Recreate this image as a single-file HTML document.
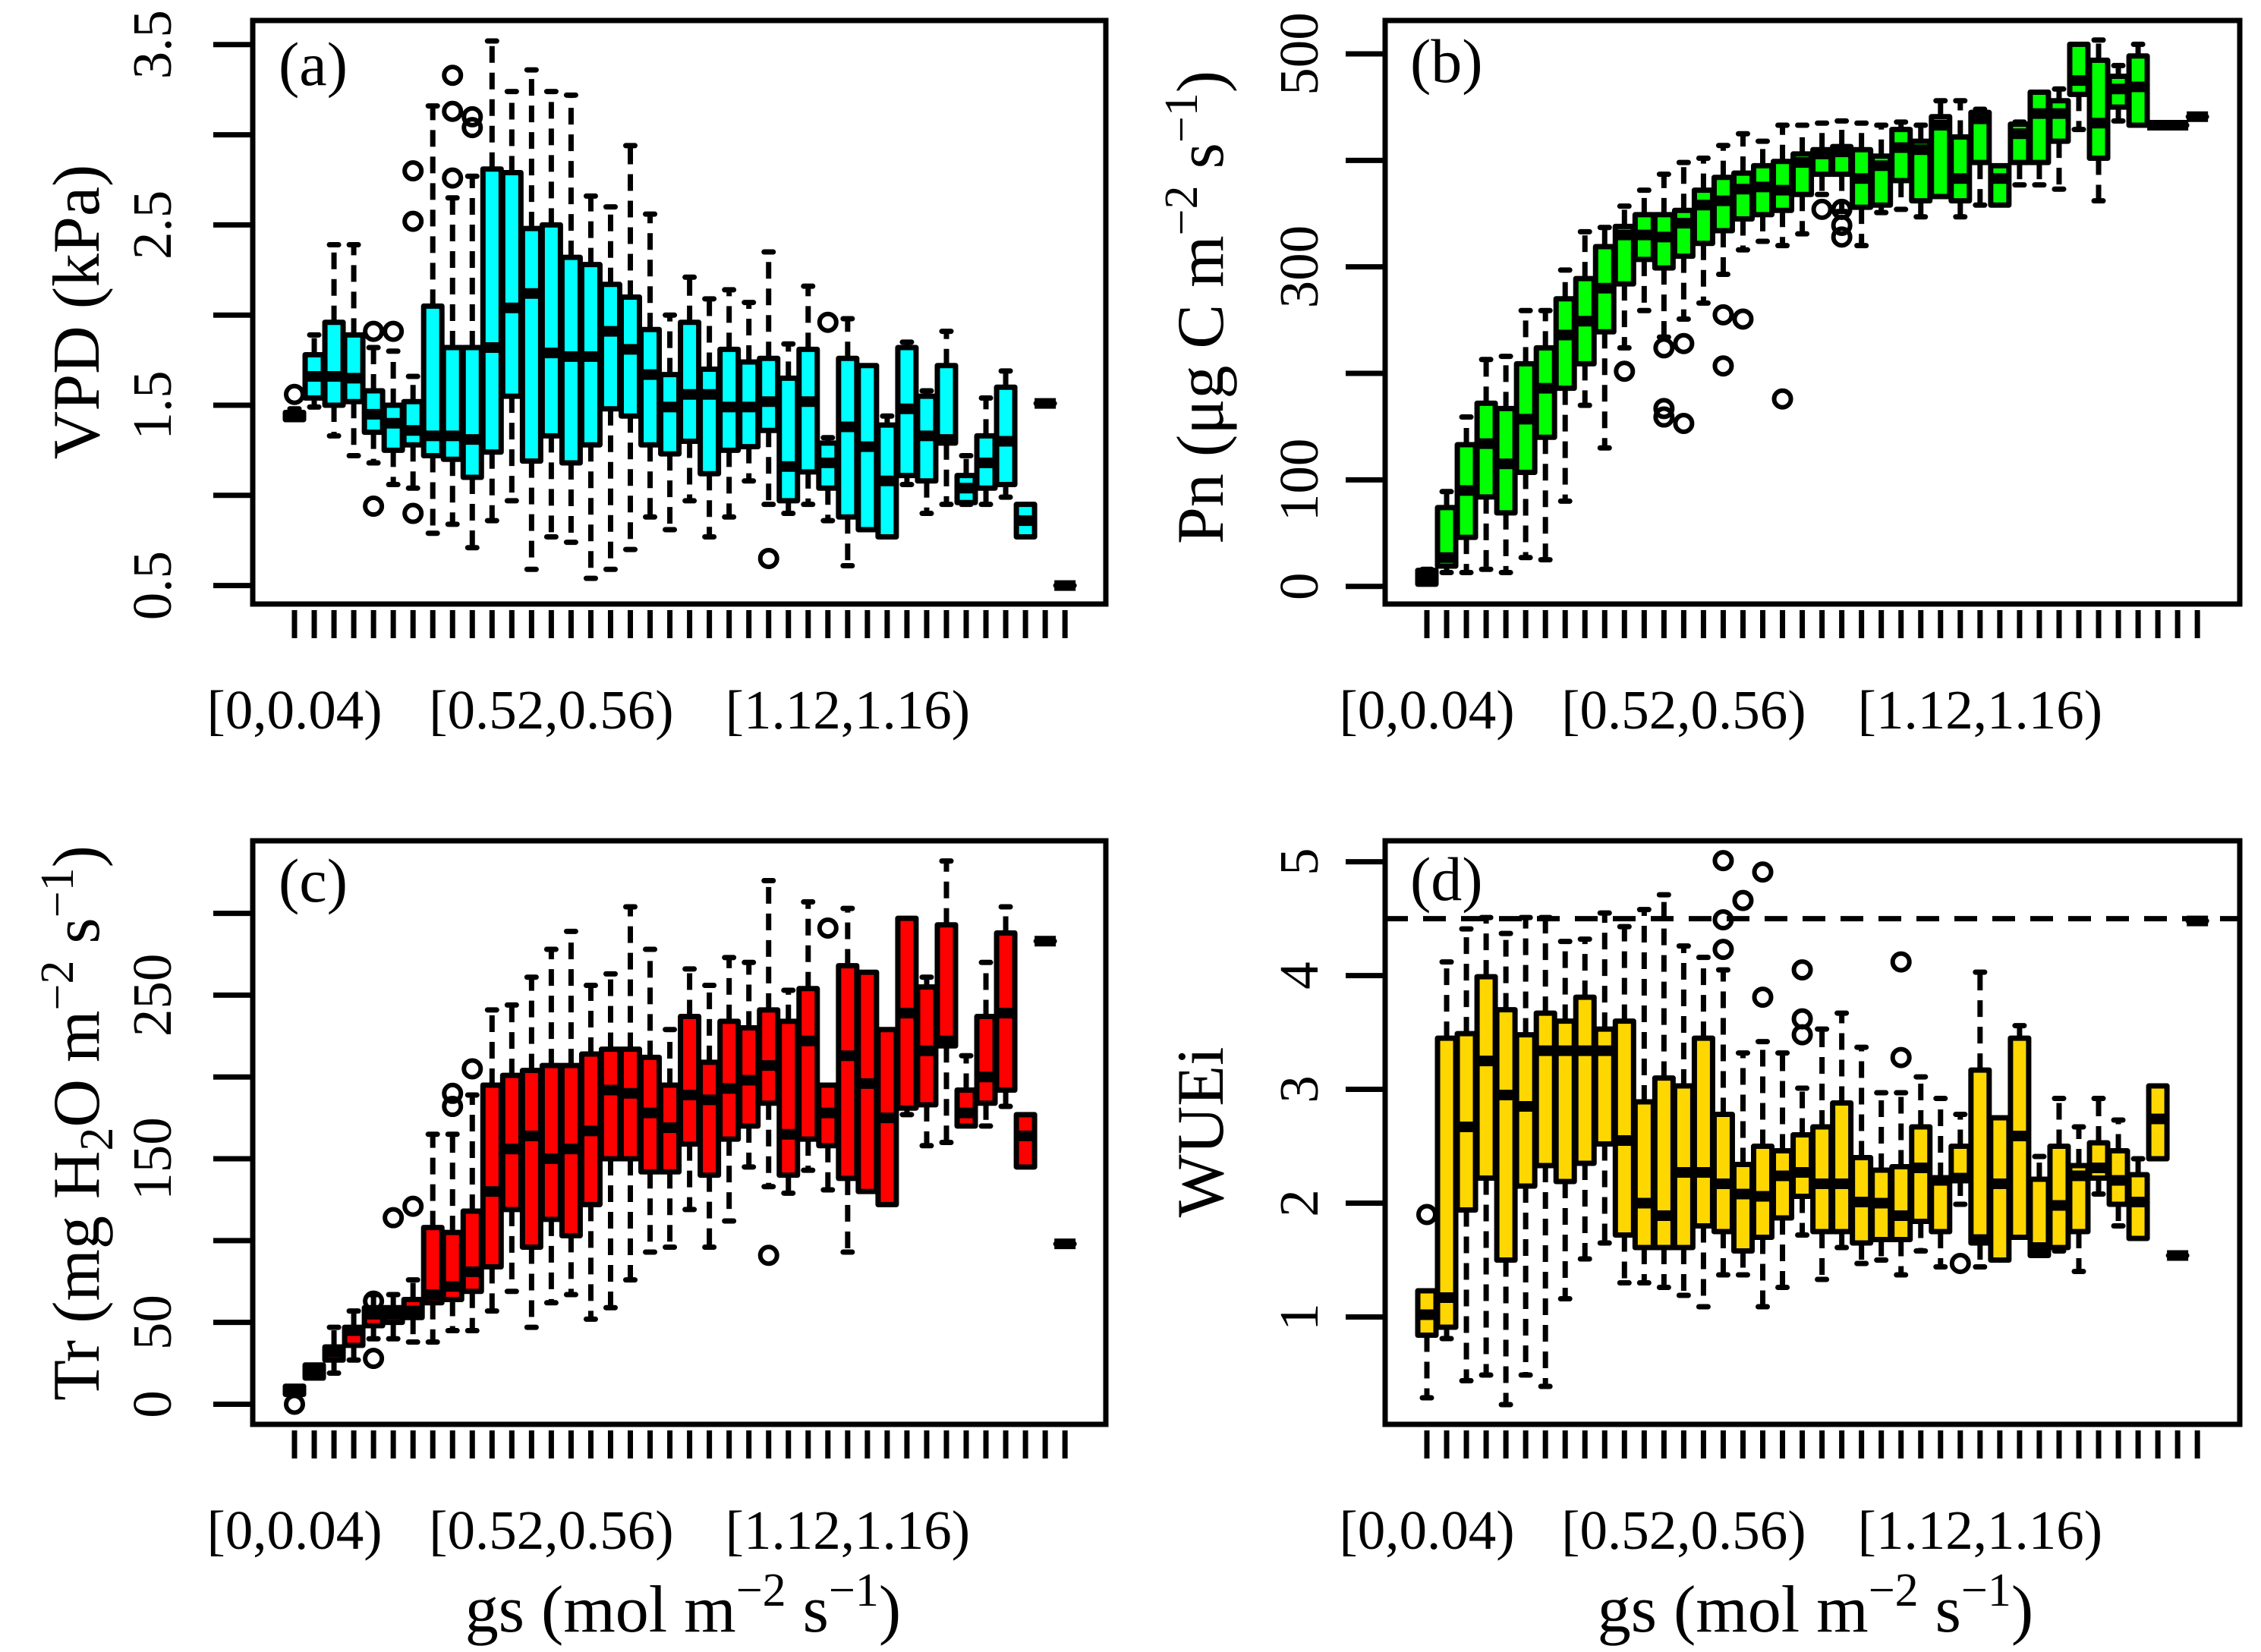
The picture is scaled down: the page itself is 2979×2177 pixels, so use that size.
<!DOCTYPE html>
<html>
<head>
<meta charset="utf-8">
<style>
html,body{margin:0;padding:0;background:#fff;}
svg{display:block;}
text{font-family:"Liberation Serif","DejaVu Serif",serif;fill:#000;}
</style>
</head>
<body>
<svg id="fig" xmlns="http://www.w3.org/2000/svg" width="2979" height="2177" viewBox="0 0 2979 2177">
  <g id="panel-a"></g>
  <g id="panel-b"></g>
  <g id="panel-c"></g>
  <g id="panel-d"></g>

  <text x="367" y="112" font-size="82">(a)</text>
  <text x="1858" y="108" font-size="82">(b)</text>
  <text x="367" y="1188" font-size="82">(c)</text>
  <text x="1858" y="1186" font-size="82">(d)</text>

  <text font-size="88" text-anchor="middle" transform="translate(130,411) rotate(-90)">VPD (kPa)</text>
  <text font-size="88" text-anchor="middle" transform="translate(1611,405) rotate(-90)">Pn (μg C m<tspan font-size="62" dy="-34">−2</tspan><tspan dy="34"> s</tspan><tspan font-size="62" dy="-34">−1</tspan><tspan dy="34">)</tspan></text>
  <text font-size="88" text-anchor="middle" transform="translate(130,1480) rotate(-90)">Tr (mg H<tspan font-size="62" dy="18">2</tspan><tspan dy="-18">O m</tspan><tspan font-size="62" dy="-34">−2</tspan><tspan dy="34"> s</tspan><tspan font-size="62" dy="-34">−1</tspan><tspan dy="34">)</tspan></text>
  <text font-size="88" text-anchor="middle" transform="translate(1611,1492) rotate(-90)">WUEi</text>

  <text x="900" y="2150" font-size="88" text-anchor="middle">gs (mol m<tspan font-size="62" dy="-34">−2</tspan><tspan dy="34"> s</tspan><tspan font-size="62" dy="-34">−1</tspan><tspan dy="34">)</tspan></text>
  <text x="2392" y="2150" font-size="88" text-anchor="middle">gs (mol m<tspan font-size="62" dy="-34">−2</tspan><tspan dy="34"> s</tspan><tspan font-size="62" dy="-34">−1</tspan><tspan dy="34">)</tspan></text>
</svg>
<script>
// ---------- shared categories ----------
const categories = ["[0,0.04)","[0.04,0.08)","[0.08,0.12)","[0.12,0.16)","[0.16,0.2)","[0.2,0.24)","[0.24,0.28)","[0.28,0.32)","[0.32,0.36)","[0.36,0.4)",
"[0.4,0.44)","[0.44,0.48)","[0.48,0.52)","[0.52,0.56)","[0.56,0.6)","[0.6,0.64)","[0.64,0.68)","[0.68,0.72)","[0.72,0.76)","[0.76,0.8)",
"[0.8,0.84)","[0.84,0.88)","[0.88,0.92)","[0.92,0.96)","[0.96,1)","[1,1.04)","[1.04,1.08)","[1.08,1.12)","[1.12,1.16)","[1.16,1.2)",
"[1.2,1.24)","[1.24,1.28)","[1.28,1.32)","[1.32,1.36)","[1.36,1.4)","[1.4,1.44)","[1.44,1.48)","[1.48,1.52)","[1.52,1.56)","[1.56,1.6)"];
const xLabelCats = ["[0,0.04)","[0.52,0.56)","[1.12,1.16)"];

// ---------- panel (a) VPD ----------
const vpdLo  = [1.42,1.49,1.33,1.22,1.18,1.06,1.04,0.79,0.84,0.71,0.86,0.97,0.59,0.77,0.74,0.54,0.59,0.70,0.88,0.81,0.97,0.77,0.88,1.08,0.95,0.90,0.95,0.86,0.61,0.81,0.77,1.06,0.90,0.95,0.95,0.95,0.99,0.77,1.51,0.50];
const vpdQ1  = [1.42,1.54,1.50,1.52,1.35,1.25,1.28,1.22,1.20,1.10,1.24,1.55,1.19,1.33,1.18,1.28,1.48,1.44,1.28,1.23,1.30,1.12,1.25,1.27,1.36,0.97,1.13,1.04,0.88,0.81,0.77,1.11,1.08,1.29,0.96,1.04,1.06,0.77,1.51,0.50];
const vpdMed = [1.44,1.66,1.66,1.65,1.45,1.40,1.36,1.33,1.33,1.31,1.82,2.04,2.12,1.79,1.77,1.77,1.91,1.81,1.67,1.49,1.56,1.56,1.49,1.49,1.52,1.16,1.52,1.18,1.38,1.27,1.08,1.48,1.33,1.31,1.04,1.18,1.30,0.86,1.51,0.50];
const vpdQ3  = [1.46,1.78,1.96,1.89,1.58,1.50,1.52,2.05,1.82,1.82,2.81,2.79,2.48,2.50,2.32,2.28,2.17,2.10,1.92,1.67,1.96,1.70,1.81,1.74,1.76,1.65,1.81,1.29,1.76,1.72,1.39,1.82,1.55,1.72,1.11,1.33,1.60,0.95,1.51,0.50];
const vpdHi  = [1.48,1.89,2.39,2.39,1.82,1.80,1.66,3.16,2.65,2.77,3.52,3.24,3.36,3.24,3.22,2.66,2.60,2.94,2.56,2.00,2.21,2.09,2.14,2.07,2.35,1.84,2.16,1.32,1.98,1.72,1.44,1.85,1.58,1.91,1.22,1.54,1.69,0.95,1.51,0.50];
const vpdOutCat = [0,4,4,5,6,6,6,8,8,8,9,9,24,27];
const vpdOutVal = [1.56,1.91,0.94,1.91,2.80,2.52,0.90,3.33,3.13,2.76,3.10,3.04,0.65,1.96];
const vpdTicks = [0.5,1,1.5,2,2.5,3,3.5];
const vpdTickLabels = ["0.5","","1.5","","2.5","","3.5"];

// ---------- panel (b) Pn ----------
const pnLo  = [2,13,13,16,13,27,25,80,170,130,224,259,234,251,266,293,316,324,320,331,368,352,320,351,354,347,366,347,358,358,377,377,373,429,362,437,433,433,433,441];
const pnQ1  = [2,19,46,84,69,107,140,186,209,239,284,307,299,310,322,334,345,349,353,368,387,387,356,358,381,362,366,362,398,358,398,398,418,462,402,450,433,433,433,441];
const pnMed = [8,27,90,134,115,157,186,236,249,280,330,330,328,341,358,362,373,375,372,398,406,408,383,395,412,410,433,383,439,383,425,444,444,475,435,467,469,433,433,441];
const pnQ3  = [15,74,133,172,167,209,224,270,289,319,338,349,349,353,372,384,388,395,399,406,410,413,410,404,429,418,441,422,445,395,434,464,456,509,494,479,498,433,433,441];
const pnHi  = [16,89,159,213,216,259,259,297,333,337,357,372,387,398,402,414,425,418,433,433,435,437,435,433,436,433,456,456,448,395,436,464,467,509,513,489,509,433,433,441];
const pnOutCat = [10,12,12,12,13,13,15,15,16,18,20,21,21,21];
const pnOutVal = [202,224,167,159,228,153,255,207,251,176,354,354,339,328];
const pnTicks = [0,100,200,300,400,500];
const pnTickLabels = ["0","100","","300","","500"];

// ---------- panel (c) Tr ----------
const trLo  = [6,16,19,27,40,40,38,38,45,45,57,69,47,62,67,52,59,76,93,96,119,96,112,145,133,129,143,131,93,130,122,177,158,160,170,170,182,145,283,98];
const trQ1  = [6,16,27,36,48,50,53,62,64,69,84,119,96,113,103,122,150,150,142,142,159,140,162,170,184,140,162,158,138,130,122,181,183,219,170,184,192,145,283,98];
const trMed = [8,20,32,45,55,55,57,67,72,81,130,156,164,150,156,167,192,190,178,169,189,186,193,198,207,165,222,178,213,196,175,239,216,222,178,200,239,164,283,98];
const trQ3  = [11,24,35,47,59,59,64,108,105,118,195,201,204,207,207,214,217,217,212,195,237,209,234,230,241,234,254,195,268,264,229,297,255,293,192,237,288,177,283,98];
const trHi  = [11,24,47,57,67,67,76,165,165,189,241,244,261,278,289,256,263,304,278,229,266,256,273,270,320,253,307,195,303,264,229,297,261,332,213,270,304,177,283,98];
const trOutCat = [0,4,4,5,6,8,8,9,24,27];
const trOutVal = [0,63,28,114,121,190,182,205,91,291];
const trTicks = [0,50,100,150,200,250,300];
const trTickLabels = ["0","50","","150","","250",""];

// ---------- panel (d) WUEi ----------
const wueLo  = [0.29,0.81,0.44,0.49,0.23,0.49,0.39,1.16,1.51,1.65,1.30,1.30,1.26,1.19,1.09,1.37,1.37,1.09,1.26,1.72,1.33,1.61,1.47,1.50,1.37,1.58,1.44,1.99,1.44,1.50,1.70,1.54,1.58,1.40,2.08,1.80,1.69,2.39,1.54,4.48];
const wueQ1  = [0.84,0.91,1.94,2.22,1.50,2.15,2.33,2.19,2.35,2.52,1.72,1.61,1.61,1.61,1.80,1.75,1.58,1.70,1.87,2.06,1.75,1.75,1.65,1.68,1.68,1.84,1.75,2.21,1.65,1.50,1.70,1.54,1.61,1.75,2.22,1.99,1.69,2.39,1.54,4.48];
const wueMed = [1.02,1.17,2.67,3.25,2.95,2.85,3.34,3.34,3.34,3.34,2.55,2.00,1.89,2.27,2.27,2.17,2.08,2.06,2.24,2.27,2.17,2.17,2.01,2.00,1.89,2.31,2.20,2.22,1.68,2.17,2.59,1.61,1.98,2.24,2.31,2.20,2.01,2.74,1.54,4.48];
const wueQ3  = [1.23,3.45,3.49,3.99,3.70,3.48,3.67,3.60,3.81,3.53,3.60,2.89,3.10,3.03,3.45,2.78,2.34,2.50,2.46,2.60,2.67,2.88,2.40,2.29,2.32,2.67,2.21,2.50,3.17,2.75,3.45,2.21,2.50,2.33,2.53,2.46,2.25,3.03,1.54,4.48];
const wueHi  = [1.23,4.12,4.41,4.51,4.37,4.51,4.51,4.30,4.32,4.55,4.43,4.58,4.71,4.26,4.16,4.05,3.32,3.42,3.32,3.01,3.53,3.67,3.37,2.97,2.97,3.11,2.92,2.78,4.03,2.75,3.56,2.41,2.92,2.67,2.92,2.73,2.39,3.03,1.54,4.48];
const wueOutCat = [0,15,15,15,16,17,17,19,19,19,24,24,27];
const wueOutVal = [1.90,5.01,4.49,4.23,4.66,4.91,3.81,4.05,3.62,3.48,4.12,3.28,1.47];
const wueTicks = [1,2,3,4,5];
const wueTickLabels = ["1","2","3","4","5"];
const wueRefLine = [4.5];

// ---------- drawing ----------
const NS = "http://www.w3.org/2000/svg";
function mk(tag, attrs, parent) {
  const e = document.createElementNS(NS, tag);
  for (const k in attrs) e.setAttribute(k, attrs[k]);
  parent.appendChild(e);
  return e;
}

function drawPanel(P, lo, q1, med, q3, hi, outCat, outVal, ticks, tickLabels, color, key) {
  const g = document.getElementById(P.id);
  const xOf = i => P.x0 + i * P.dx;
  const yOf = v => P.yRef - (v - P.vRef) * P.k;
  const hw = 12;

  for (let i = 0; i < categories.length; i++) {
    const cx = xOf(i);
    const grp = mk("g", {}, g);
    
    
    if (hi[i] > q3[i]) {
      const w1 = mk("line", {x1: cx, x2: cx, y1: yOf(q3[i]), y2: yOf(hi[i]), stroke: "#000", "stroke-width": 7, "stroke-dasharray": "22 13"}, grp);
      
      
      const s1 = mk("line", {x1: cx - 6, x2: cx + 6, y1: yOf(hi[i]), y2: yOf(hi[i]), stroke: "#000", "stroke-width": 7, "stroke-linecap": "round"}, grp);
      
      
    }
    if (lo[i] < q1[i]) {
      const w2 = mk("line", {x1: cx, x2: cx, y1: yOf(q1[i]), y2: yOf(lo[i]), stroke: "#000", "stroke-width": 7, "stroke-dasharray": "22 13"}, grp);
      
      
      const s2 = mk("line", {x1: cx - 6, x2: cx + 6, y1: yOf(lo[i]), y2: yOf(lo[i]), stroke: "#000", "stroke-width": 7, "stroke-linecap": "round"}, grp);
      
      
    }
    const yt = yOf(q3[i]), yb = yOf(q1[i]);
    const r = mk("rect", {x: cx - hw, y: yt, width: 2 * hw, height: Math.max(0.01, yb - yt), fill: color, stroke: "#000", "stroke-width": 7, "stroke-linejoin": "round"}, grp);
    
    
    const m = mk("line", {x1: cx - hw - 2, x2: cx + hw + 2, y1: yOf(med[i]), y2: yOf(med[i]), stroke: "#000", "stroke-width": 14}, grp);
    
    
  }

  for (let j = 0; j < outCat.length; j++) {
    const c = mk("circle", {cx: xOf(outCat[j]), cy: yOf(outVal[j]), r: 11, fill: "none", stroke: "#000", "stroke-width": 6}, g);
    
    
  }

  // frame
  const fr = mk("rect", {x: P.left, y: P.top, width: P.right - P.left, height: P.bottom - P.top, fill: "none", stroke: "#000", "stroke-width": 7}, g);
  
  

  // x ticks
  for (let i = 0; i < categories.length; i++) {
    const t = mk("line", {x1: xOf(i), x2: xOf(i), y1: P.bottom + 8, y2: P.bottom + 45, stroke: "#000", "stroke-width": 7}, g);
    
    
  }
  xLabelCats.forEach(lab => {
    const i = categories.indexOf(lab);
    const t = mk("text", {x: xOf(i), y: P.bottom + 164, "font-size": 73, "text-anchor": "middle"}, g);
    t.textContent = lab;
    
    
  });

  // y ticks
  ticks.forEach((v, k) => {
    const t = mk("line", {x1: P.left - 52, x2: P.left, y1: yOf(v), y2: yOf(v), stroke: "#000", "stroke-width": 7}, g);
    
    
    if (tickLabels[k] !== "") {
      const tx = mk("text", {"font-size": 73, "text-anchor": "middle", transform: "translate(" + P.ylabX + "," + yOf(v) + ") rotate(-90)"}, g);
      tx.textContent = tickLabels[k];
      
      
    }
  });
  return yOf;
}

const PA = {id: "panel-a", left: 333, right: 1457, top: 27, bottom: 796, x0: 388, dx: 26.03, yRef: 771.6, vRef: 0.5, k: 237.6, ylabX: 225};
const PB = {id: "panel-b", left: 1825, right: 2951, top: 27, bottom: 796, x0: 1880, dx: 26.03, yRef: 772.7, vRef: 0, k: 1.4034, ylabX: 1736};
const PC = {id: "panel-c", left: 333, right: 1457, top: 1108, bottom: 1877, x0: 388, dx: 26.03, yRef: 1850.5, vRef: 0, k: 2.1563, ylabX: 225};
const PD = {id: "panel-d", left: 1825, right: 2951, top: 1108, bottom: 1877, x0: 1880, dx: 26.03, yRef: 1735.5, vRef: 1, k: 149.97, ylabX: 1736};

drawPanel(PA, vpdLo, vpdQ1, vpdMed, vpdQ3, vpdHi, vpdOutCat, vpdOutVal, vpdTicks, vpdTickLabels, "#00FFFF", "vpd");
drawPanel(PB, pnLo, pnQ1, pnMed, pnQ3, pnHi, pnOutCat, pnOutVal, pnTicks, pnTickLabels, "#00FF00", "pn");
drawPanel(PC, trLo, trQ1, trMed, trQ3, trHi, trOutCat, trOutVal, trTicks, trTickLabels, "#FF0000", "tr");
const yD = drawPanel(PD, wueLo, wueQ1, wueMed, wueQ3, wueHi, wueOutCat, wueOutVal, wueTicks, wueTickLabels, "#FFD700", "wuei");

const gd = document.getElementById("panel-d");
const ref = mk("line", {x1: PD.left, x2: PD.right, y1: yD(wueRefLine[0]), y2: yD(wueRefLine[0]), stroke: "#000", "stroke-width": 7, "stroke-dasharray": "30 20"}, gd);


</script>
</body>
</html>
